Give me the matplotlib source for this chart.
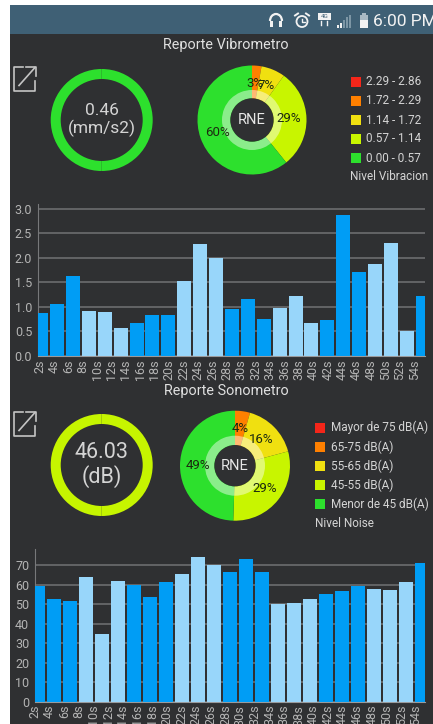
import numpy as np
import matplotlib
matplotlib.use('Agg')
import matplotlib.pyplot as plt
from matplotlib.patches import Rectangle, Wedge, Circle, Arc

W, H = 433, 724

BG = '#2f3032'
BAR_DARK = '#009df5'
BAR_LIGHT = '#98d6fa'
GRID = '#6c6d6f'
TXT = '#d4d4d4'
LEVELS = ['#f5261a', '#ff8000', '#f0e010', '#c8f500', '#2de02d']

times = ['%ds' % s for s in range(2, 56, 2)]

vib_values = [0.87, 1.05, 1.62, 0.92, 0.90, 0.57, 0.67, 0.83, 0.83, 1.53, 2.28, 2.00, 0.95,
              1.15, 0.75, 0.97, 1.22, 0.68, 0.73, 2.86, 1.70, 1.87, 2.29, 0.50, 1.23]
noise_values = [59.6, 52.5, 51.6, 64.2, 34.8, 61.8, 60.1, 53.7, 61.2, 65.8, 74.1, 70.4, 66.4,
                73.4, 66.6, 50.3, 50.6, 52.5, 55.5, 56.6, 59.3, 57.9, 57.4, 61.2, 71.2]

vib_shares = [0, 2.8, 7.1, 29.3, 60.8]
vib_share_labels = ['', '3%', '7%', '29%', '60%']
noise_shares = [0, 4.4, 16.4, 29.7, 49.5]
noise_share_labels = ['', '4%', '16%', '29%', '49%']

vib_legend = ['2.29 - 2.86', '1.72 - 2.29', '1.14 - 1.72', '0.57 - 1.14', '0.00 - 0.57']
noise_legend = ['Mayor de 75 dB(A)', '65-75 dB(A)', '55-65 dB(A)', '45-55 dB(A)', 'Menor de 45 dB(A)']

plt.rcParams['font.family'] = ['Roboto', 'DejaVu Sans']

fig = plt.figure(figsize=(W / 100, H / 100), dpi=100, facecolor='white')


def px_axes(left, top, right, bottom):
    return fig.add_axes([left / W, 1 - bottom / H, (right - left) / W, (bottom - top) / H])


# page background, status bar and texts are drawn in pixel coordinates
page = px_axes(0, 0, W, H)
page.set_xlim(0, W)
page.set_ylim(H, 0)
page.axis('off')
page.add_patch(Rectangle((9.5, 5), W, H, fc=BG, ec='none'))
page.add_patch(Rectangle((9.5, 5), W, 29, fc='#3f6075', ec='none'))


def status_icons():
    c = '#f2f2f2'
    # headphones
    page.add_patch(Arc((276, 21), 12, 14, theta1=180, theta2=360, ec=c, lw=1.6))
    page.add_patch(Rectangle((270, 21), 3, 6, fc=c))
    page.add_patch(Rectangle((279, 21), 3, 6, fc=c))
    # alarm
    page.add_patch(Circle((302, 21.5), 5.5, fc='none', ec=c, lw=1.3))
    page.plot([302, 302, 305], [18.5, 22, 22], color=c, lw=1)
    page.plot([295, 298], [15.5, 13.5], color=c, lw=1.4)
    page.plot([306, 309], [13.5, 15.5], color=c, lw=1.4)
    # network + signal
    page.add_patch(Rectangle((318, 13), 13, 7, fc=c))
    page.text(324.5, 16.5, '4G', color='#3f6075', fontsize=4.5, ha='center', va='center')
    page.plot([321, 321], [21, 25], color=c, lw=1)
    page.plot([327, 327], [21, 25], color=c, lw=1)
    for i, h in enumerate([3, 5, 8, 11, 13]):
        page.add_patch(Rectangle((337 + i * 3, 28 - h), 2, h, fc=c if i < 2 else '#7d96a5'))
    # battery
    page.add_patch(Rectangle((360, 15), 8, 13, fc='#a9b9c3'))
    page.add_patch(Rectangle((360, 20), 8, 8, fc=c))
    page.add_patch(Rectangle((362, 13), 4, 2, fc='#a9b9c3'))
    page.text(373, 21, '6:00 PM', color='#f2f2f2', fontsize=12.5, ha='left', va='center')


def export_icon(x, y):
    c = '#c4c4c4'
    page.plot([x + 9, x, x, x + 21, x + 21], [y, y, y + 24, y + 24, y + 14], color=c, lw=1.2)
    page.plot([x + 5, x + 21], [y + 19, y + 1], color=c, lw=1.2)
    page.plot([x + 12, x + 21.5, x + 21.5], [y + 0.5, y + 0.5, y + 9], color=c, lw=1.2)


def gauge(cx, cy, r, color, lines, size):
    ax = px_axes(cx - r, cy - r, cx + r, cy + r)
    ax.pie([1, 1], colors=[color, color], startangle=90, radius=1,
           wedgeprops={'width': 10 / r, 'linewidth': 0})
    ax.set_xlim(-1, 1)
    ax.set_ylim(-1, 1)
    ax.text(0, 0, lines, color=TXT, fontsize=size, ha='center', va='center', linespacing=1.15)


def share_pie(cx, cy, r, shares, labels, inner):
    ax = px_axes(cx - r, cy - r, cx + r, cy + r)
    wedges, texts = ax.pie(shares, colors=LEVELS, labels=labels, labeldistance=0.68,
                           startangle=90, counterclock=False, radius=1,
                           wedgeprops={'linewidth': 0})
    for t in texts:
        t.set_ha('center')
        t.set_va('center')
        t.set_color('#1c2a10')
        t.set_fontsize(9.5)
        t.set_zorder(6)
    ax.add_patch(Wedge((0, 0), 30 / r, 0, 360, width=(30 - inner) / r, fc='white', alpha=0.45, ec='none', zorder=3))
    ax.add_patch(Circle((0, 0), inner / r, fc=BG, ec='none', zorder=4))
    ax.text(0, 0, 'RNE', color='#e6e6e6', fontsize=10.5, ha='center', va='center', zorder=5)
    ax.set_xlim(-1, 1)
    ax.set_ylim(-1, 1)


def legend(x, ys, labels, title, title_y):
    for y, c, lab in zip(ys, LEVELS, labels):
        page.add_patch(Rectangle((x, y - 5), 10, 10, fc=c, ec='none'))
        page.text(x + 16, y, lab, color=TXT, fontsize=8.5, ha='left', va='center')
    page.text(x, title_y, title, color=TXT, fontsize=8.5, ha='left', va='center')


def bar_chart(rect, values, yticks, yfmt, xlim, label_span, xpad):
    ax = px_axes(*rect)
    x = np.arange(len(values))
    colors = [BAR_DARK if (i // 3) % 2 == 0 else BAR_LIGHT for i in range(len(values))]
    ax.bar(x, values, width=0.88, color=colors, zorder=3)
    ax.set_facecolor('none')
    ax.set_xlim(*xlim)
    ax.set_yticks(yticks)
    ax.set_yticklabels([yfmt % t for t in yticks])
    # the app squeezes 27 labels under 25 bars
    ax.set_xticks(np.linspace(label_span[0], label_span[1], len(times)))
    ax.set_xticklabels(times, rotation=90)
    ax.tick_params(axis='both', length=0, colors='#b4b4b4', labelsize=9)
    ax.tick_params(axis='y', pad=4)
    ax.tick_params(axis='x', pad=xpad)
    ax.grid(axis='y', color=GRID, lw=1.2, zorder=1)
    for s in ['top', 'right']:
        ax.spines[s].set_visible(False)
    ax.spines['left'].set_color('#77787a')
    ax.spines['bottom'].set_color('#9a9b9d')
    return ax


status_icons()

page.text(226, 45.5, 'Reporte Vibrometro', color='#e0e0e0', fontsize=10.4, ha='center', va='center')
export_icon(14, 66.5)
gauge(101.7, 120, 51, '#2de02d', '0.46\n(mm/s2)', 12.5)
share_pie(252, 120, 54.5, vib_shares, vib_share_labels, 21.7)
legend(350.5, [81.7, 101, 120, 139, 158], vib_legend, 'Nivel Vibracion', 177)

ax1 = bar_chart((37.7, 204, 425.3, 356), vib_values, [0, 0.5, 1, 1.5, 2, 2.5, 3], '%.1f',
                (-0.22, 24.16), (-0.11, 23.47), 2.5)
ax1.set_ylim(0, 3 * 152 / 147.5)

page.text(226, 391, 'Reporte Sonometro', color='#e0e0e0', fontsize=10.4, ha='center', va='center')
export_icon(14, 411.5)
gauge(101.7, 465, 51, '#c6f500', '46.03\n(dB)', 15.5)
share_pie(235, 465.7, 55, noise_shares, noise_share_labels, 20.7)
legend(315, [427.7, 447, 466, 485, 504], noise_legend, 'Nivel Noise', 523.3)

ax2 = bar_chart((34.7, 549, 425.3, 702), noise_values, [0, 10, 20, 30, 40, 50, 60, 70], '%d',
                (-0.22, 24.19), (-0.2, 23.6), 2)
ax2.set_ylim(0, 70 * 153 / 136.7)

fig.savefig('out.png', dpi=100, facecolor='white')
